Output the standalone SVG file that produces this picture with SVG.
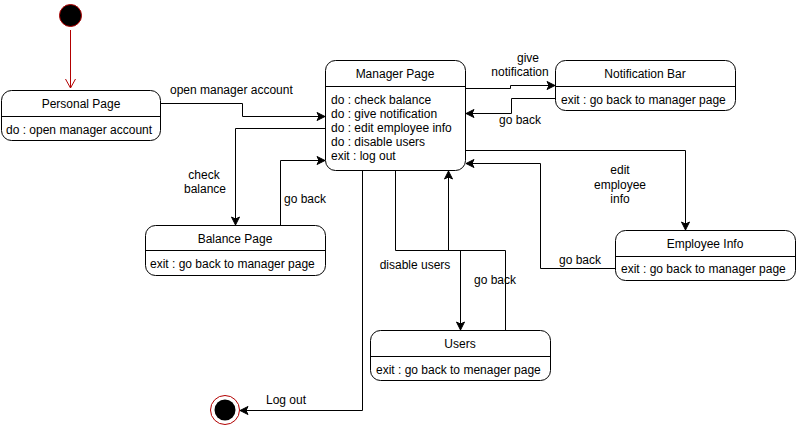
<svg xmlns="http://www.w3.org/2000/svg" width="796" height="426" viewBox="0 0 796 426">
<defs>
<marker id="arr" markerWidth="10" markerHeight="10" refX="9" refY="5" orient="auto" markerUnits="userSpaceOnUse">
<path d="M1,1 L9,5 L1,9 L3,5 Z" fill="#000" stroke="#000" stroke-width="1"/>
</marker>
<marker id="open" markerWidth="12" markerHeight="12" refX="10" refY="6" orient="auto" markerUnits="userSpaceOnUse">
<path d="M1,1 L10,6 L1,11" fill="none" stroke="#b20000" stroke-width="1"/>
</marker>
<style>
.box{fill:#fff;stroke:#000;stroke-width:1}
.div{stroke:#000;stroke-width:1}
text{font-family:"Liberation Sans",Arial,sans-serif;font-size:12px;fill:#000}
.c{text-anchor:middle}
.edge{fill:none;stroke:#000;stroke-width:1;marker-end:url(#arr)}
</style>
</defs>
<rect width="796" height="426" fill="#fff"/>

<g id="start">
<circle cx="70.5" cy="15.5" r="11" fill="#000" stroke="#b20000" stroke-width="1"/>
</g>
<g id="end">
<circle cx="225" cy="410" r="14.5" fill="#fff" stroke="#b20000" stroke-width="1"/>
<circle cx="225" cy="410" r="10.5" fill="#000"/>
</g>

<g id="personal-page">
<rect class="box" x="1.5" y="90.5" width="159" height="50" rx="10"/>
<line class="div" x1="1.5" y1="116.5" x2="160.5" y2="116.5"/>
<text class="c" x="81" y="108">Personal Page</text>
<text x="6" y="134">do : open manager account</text>
</g>

<g id="manager-page">
<rect class="box" x="325.5" y="60.5" width="140" height="110" rx="10"/>
<line class="div" x1="325.5" y1="86.5" x2="465.5" y2="86.5"/>
<text class="c" x="395" y="78">Manager Page</text>
<text x="331" y="104">do : check balance</text>
<text x="331" y="118">do : give notification</text>
<text x="331" y="132">do : edit employee info</text>
<text x="331" y="146">do : disable users</text>
<text x="331" y="160">exit : log out</text>
</g>

<g id="notification-bar">
<rect class="box" x="555.5" y="60.5" width="180" height="50" rx="10"/>
<line class="div" x1="555.5" y1="86.5" x2="735.5" y2="86.5"/>
<text class="c" x="645" y="78">Notification Bar</text>
<text x="561" y="104">exit : go back to manager page</text>
</g>

<g id="balance-page">
<rect class="box" x="145.5" y="225.5" width="180" height="50" rx="10"/>
<line class="div" x1="145.5" y1="250.5" x2="325.5" y2="250.5"/>
<text class="c" x="235" y="243">Balance Page</text>
<text x="150" y="268">exit : go back to manager page</text>
</g>

<g id="employee-info">
<rect class="box" x="615.5" y="230.5" width="180" height="50" rx="10"/>
<line class="div" x1="615.5" y1="256.5" x2="795.5" y2="256.5"/>
<text class="c" x="705" y="248">Employee Info</text>
<text x="621" y="273">exit : go back to manager page</text>
</g>

<g id="users">
<rect class="box" x="370.5" y="330.5" width="180" height="50" rx="10"/>
<line class="div" x1="370.5" y1="356.5" x2="550.5" y2="356.5"/>
<text class="c" x="460" y="348">Users</text>
<text x="376" y="374">exit : go back to menager page</text>
</g>

<g id="connectors">
<path d="M70.5,30 L70.5,88" fill="none" stroke="#b20000" stroke-width="1" marker-end="url(#open)"/>
<path class="edge" d="M160.5,103.5 L242.5,103.5 L242.5,116.5 L325,116.5"/>
<text x="170" y="94">open manager account</text>

<path class="edge" d="M465.5,88.5 L510.5,88.5 L510.5,85.5 L555,85.5"/>
<text class="c" x="528" y="62">give</text>
<text class="c" x="520" y="76">notification</text>

<path class="edge" d="M555.5,98.5 L511.5,98.5 L511.5,113.5 L466,113.5"/>
<text class="c" x="520" y="124">go back</text>

<path class="edge" d="M325.5,128.5 L235.5,128.5 L235.5,225"/>
<text class="c" x="204" y="179">check</text>
<text class="c" x="205" y="193">balance</text>

<path class="edge" d="M280.5,225.5 L280.5,160.5 L325,160.5"/>
<text class="c" x="305" y="203">go back</text>

<path class="edge" d="M395.5,170.5 L395.5,250.5 L460.5,250.5 L460.5,330"/>
<text class="c" x="415" y="269">disable users</text>

<path class="edge" d="M505.5,330.5 L505.5,250.5 L448.5,250.5 L448.5,171"/>
<text class="c" x="495" y="284">go back</text>

<path class="edge" d="M362.5,170.5 L362.5,410.5 L240,410.5"/>
<text class="c" x="286" y="404">Log out</text>

<path class="edge" d="M465.5,150.5 L685.5,150.5 L685.5,230"/>
<text class="c" x="620" y="174">edit</text>
<text class="c" x="620" y="189">employee</text>
<text class="c" x="620" y="203">info</text>

<path class="edge" d="M615.5,268.5 L540.5,268.5 L540.5,163.5 L466,163.5"/>
<text class="c" x="580" y="264">go back</text>
</g>
</svg>
